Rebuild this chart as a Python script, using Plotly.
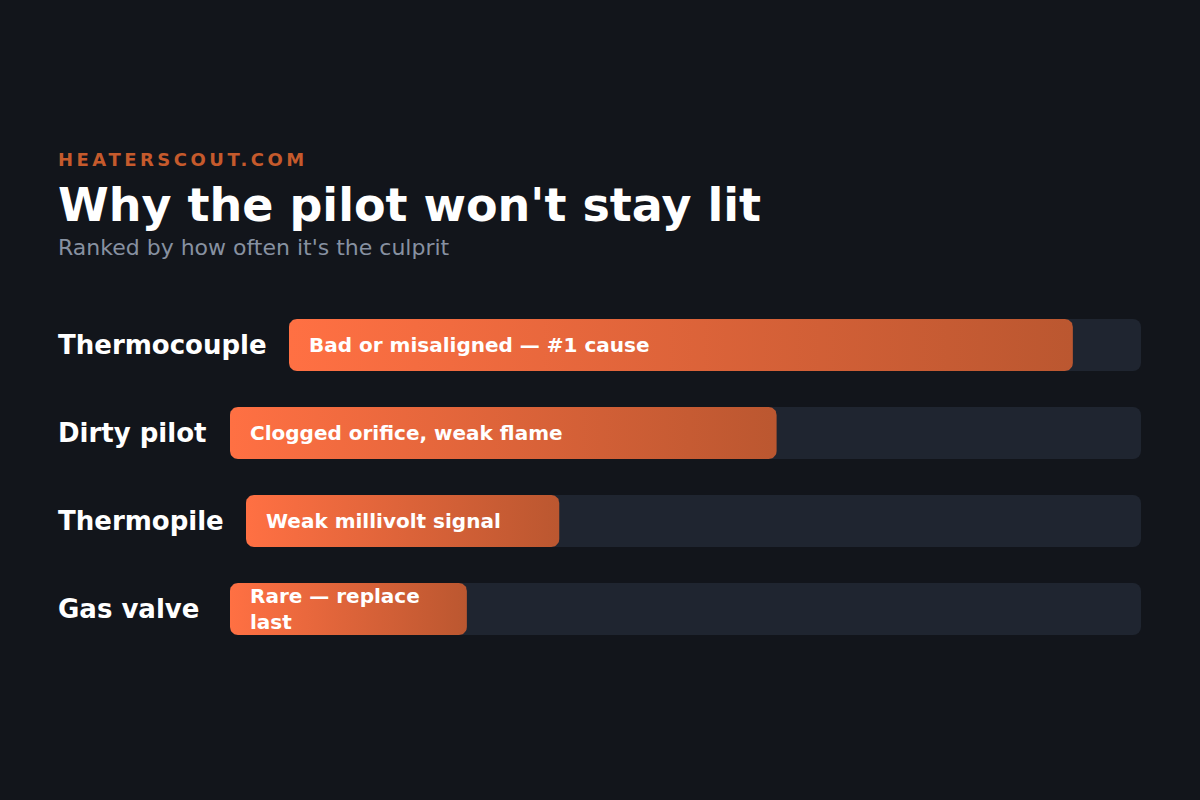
import plotly.graph_objects as go
import math

# ---- data ----
causes = ["Thermocouple", "Dirty pilot", "Thermopile", "Gas valve"]
shares = [92, 60, 35, 26]  # bar length as % of track
notes = ["Bad or misaligned — #1 cause", "Clogged orifice, weak flame",
         "Weak millivolt signal", "Rare — replace<br>last"]
brand = "HEATERSCOUT.COM"
title = "Why the pilot won't stay lit"
subtitle = "Ranked by how often it's the culprit"

# ---- layout constants (pixels) ----
W, H = 1200, 800
BG = "#12151b"
TRACK = "#1f2530"
track_starts = [289, 230, 246, 230]
track_end = 1141
row_centers = [345, 433, 521, 609]
bar_h = 52
radius = 8
FONT = "DejaVu Sans"

fig = go.Figure()
layout_axes = {}
annotations = []


def rrect(x0, x1, y0, y1, rx, ry, n=10):
    xs, ys = [], []
    corners = [((x1 - rx, y0 + ry), -90, 0), ((x1 - rx, y1 - ry), 0, 90),
               ((x0 + rx, y1 - ry), 90, 180), ((x0 + rx, y0 + ry), 180, 270)]
    for (cx, cy), a0, a1 in corners:
        for k in range(n + 1):
            a = math.radians(a0 + (a1 - a0) * k / n)
            xs.append(cx + rx * math.cos(a))
            ys.append(cy + ry * math.sin(a))
    xs.append(xs[0]); ys.append(ys[0])
    return xs, ys


for i, (cause, val, note) in enumerate(zip(causes, shares, notes)):
    k = i + 1
    xa = "x" if k == 1 else f"x{k}"
    ya = "y" if k == 1 else f"y{k}"
    x0p = track_starts[i]
    tw = track_end - x0p
    ytop = row_centers[i] - bar_h / 2
    ybot = row_centers[i] + bar_h / 2
    layout_axes["xaxis" if k == 1 else f"xaxis{k}"] = dict(
        domain=[x0p / W, track_end / W], range=[0, 100], visible=False,
        fixedrange=True, anchor=ya)
    layout_axes["yaxis" if k == 1 else f"yaxis{k}"] = dict(
        domain=[1 - ybot / H, 1 - ytop / H], range=[0, 1], visible=False,
        fixedrange=True, anchor=xa)
    # track
    fig.add_trace(go.Bar(x=[100], y=[0.5], width=1, orientation="h", base=0,
                         marker=dict(color=TRACK, cornerradius=radius, line=dict(width=0)),
                         xaxis=xa, yaxis=ya, hoverinfo="skip", showlegend=False))
    # value bar with gradient
    rx = radius * 100 / tw
    ry = radius / bar_h
    xs, ys = rrect(0, val, 0, 1, rx, ry)
    fig.add_trace(go.Scatter(x=xs, y=ys, mode="lines", fill="toself",
                             line=dict(width=0, color="rgba(0,0,0,0)"),
                             fillgradient=dict(type="horizontal",
                                               colorscale=[[0, "#ff7043"], [1, "#bb5730"]]),
                             xaxis=xa, yaxis=ya, hoverinfo="skip", showlegend=False))
    annotations.append(dict(text=note, xref=xa, yref=ya, x=0, y=0.5, xshift=18,
                            xanchor="left", yanchor="middle", showarrow=False, align="left",
                            font=dict(family=FONT, size=20, color="#ffffff", weight="bold")))
    annotations.append(dict(text=cause, xref="paper", yref="paper", x=56 / W,
                            y=1 - row_centers[i] / H, xanchor="left", yanchor="middle",
                            showarrow=False,
                            font=dict(family=FONT, size=26, color="#ffffff", weight="bold")))

annotations += [
    dict(text=f'<span style="letter-spacing:3.5px">{brand}</span>', xref="paper", yref="paper",
         x=56 / W, y=1 - 159 / H, xanchor="left", yanchor="middle", showarrow=False,
         font=dict(family=FONT, size=18, color="#c55a2c", weight="bold")),
    dict(text=title, xref="paper", yref="paper", x=56 / W, y=1 - 205 / H,
         xanchor="left", yanchor="middle", showarrow=False,
         font=dict(family=FONT, size=46, color="#ffffff", weight="bold")),
    dict(text=subtitle, xref="paper", yref="paper", x=56 / W, y=1 - 247 / H,
         xanchor="left", yanchor="middle", showarrow=False,
         font=dict(family=FONT, size=22, color="#8791a1")),
]

fig.update_layout(width=W, height=H, margin=dict(l=0, r=0, t=0, b=0),
                  paper_bgcolor=BG, plot_bgcolor=BG, showlegend=False,
                  annotations=annotations, **layout_axes)

fig.write_html("out.html", config={"displayModeBar": False},
               post_script="document.body.style.margin='0';document.body.style.background='#12151b';")
